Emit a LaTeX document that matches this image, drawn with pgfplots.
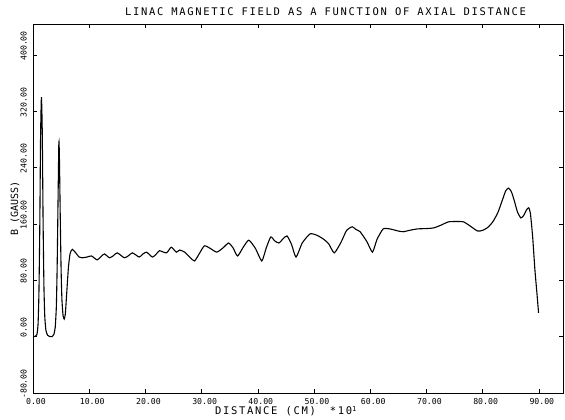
\documentclass[border=0pt]{standalone}
\usepackage{fontspec}
\setmainfont{DejaVu Sans Mono}
\newfontfamily\spaced[LetterSpace=16]{DejaVu Sans Mono}
\usepackage{pgfplots}
\pgfplotsset{compat=1.18}
\begin{document}
\begin{tikzpicture}
\path[use as bounding box] (-33pt,-27pt) rectangle (532pt,393pt);
\begin{axis}[
  at={(0,0)}, anchor=south west,
  scale only axis, width=530pt, height=369pt,
  xmin=0, xmax=94.3, ymin=-80, ymax=444,
  xtick={0,10,...,90}, ytick={-80,0,80,160,240,320,400},
  /pgf/number format/assume math mode=true,
  /pgf/number format/.cd, fixed, fixed zerofill, precision=2, /pgfplots/.cd,
  major tick length=4pt,
  tick style={black, line width=0.6pt},
  axis line style={black, line width=0.8pt},
  xticklabel style={font=\fontsize{8.2}{9}\selectfont, inner sep=0pt, xshift=3pt, yshift=-5pt, anchor=north},
  yticklabel style={font=\fontsize{8.2}{9}\selectfont, inner sep=0pt, xshift=-6pt, yshift=9pt, rotate=90, anchor=south},
  every axis title shift=0pt,
  title={\spaced LINAC MAGNETIC FIELD AS A FUNCTION OF AXIAL DISTANCE},
  title style={at={(axis description cs:0.552,1)}, font=\fontsize{10.5}{12}\selectfont, inner sep=0pt, yshift=12pt, anchor=center},
  xlabel={\spaced DISTANCE (CM)\hspace{14pt}*10\raisebox{3pt}{\fontsize{7}{8}\selectfont 1}},
  xlabel style={at={(axis description cs:0.477,0)}, font=\fontsize{10.5}{12}\selectfont, inner sep=0pt, yshift=-18.5pt, anchor=center},
  ylabel={B (GAUSS)},
  every axis y label/.style={at={(axis description cs:0,0.5)}, font=\fontsize{10}{12}\selectfont, inner sep=0pt, xshift=-18pt, rotate=90, anchor=center},
]
\addplot[black, line width=1.1pt, smooth, tension=0.35] coordinates {
(0,0) (0.4,0.5) (0.7,3) (0.9,18) (1.05,60) (1.2,150) (1.35,285) (1.5,340) (1.65,290) (1.8,160) (1.95,70) (2.1,28) (2.3,9) (2.6,2) (3.0,0) (3.4,0) (3.7,3) (3.95,13)
(4.15,42) (4.3,100) (4.45,190) (4.6,276) (4.7,255) (4.85,170) (5.0,95) (5.15,52) (5.35,30) (5.55,25) (5.75,32) (6.0,62) (6.3,98) (6.6,118) (7.0,124)
(7.6,119) (8.2,113) (8.75,112) (9.6,113) (10.4,114.6) (11.4,109) (12.0,113) (12.7,117.5) (13.6,112) (14.3,115) (15.0,119) (16.25,112) (17.0,115) (17.7,119)
(18.9,113) (19.5,117) (20.2,120) (21.25,113) (21.9,117) (22.5,122) (23.75,119) (24.6,127) (25.5,120) (26.1,123) (27.0,120) (28.0,112) (28.75,107.5)
(29.6,118) (30.5,129) (31.6,125) (32.7,120) (33.8,126) (34.8,133) (35.6,126) (36.4,114.6) (37.4,127) (38.4,137) (39.6,125) (40.7,107.5) (41.5,126)
(42.3,141.6) (43.0,136) (43.75,133) (44.5,139) (45.2,143) (46.0,131) (46.8,113) (47.9,133) (49.3,146) (50.5,144) (51.6,139) (52.6,132) (53.6,119)
(54.8,134) (55.8,151) (56.8,156) (57.5,152) (58.2,149) (59.4,135) (60.4,120) (61.2,138) (62.3,153) (63.5,153) (65.0,150) (65.9,149) (67.0,151)
(68.4,153) (70.0,153.5) (71.25,154.4) (72.5,158) (73.9,163) (75.3,163.5) (76.6,163) (77.8,157) (79.1,150) (80.0,151) (80.9,155) (81.8,163)
(82.7,176) (83.6,196) (84.1,207) (84.6,211) (85.1,206) (85.6,194) (86.2,177) (86.8,168.6) (87.3,172) (87.8,180) (88.2,183) (88.5,175)
(88.9,141.6) (89.3,95) (89.7,58) (89.95,33.7)
};
\end{axis}
\end{tikzpicture}
\end{document}
